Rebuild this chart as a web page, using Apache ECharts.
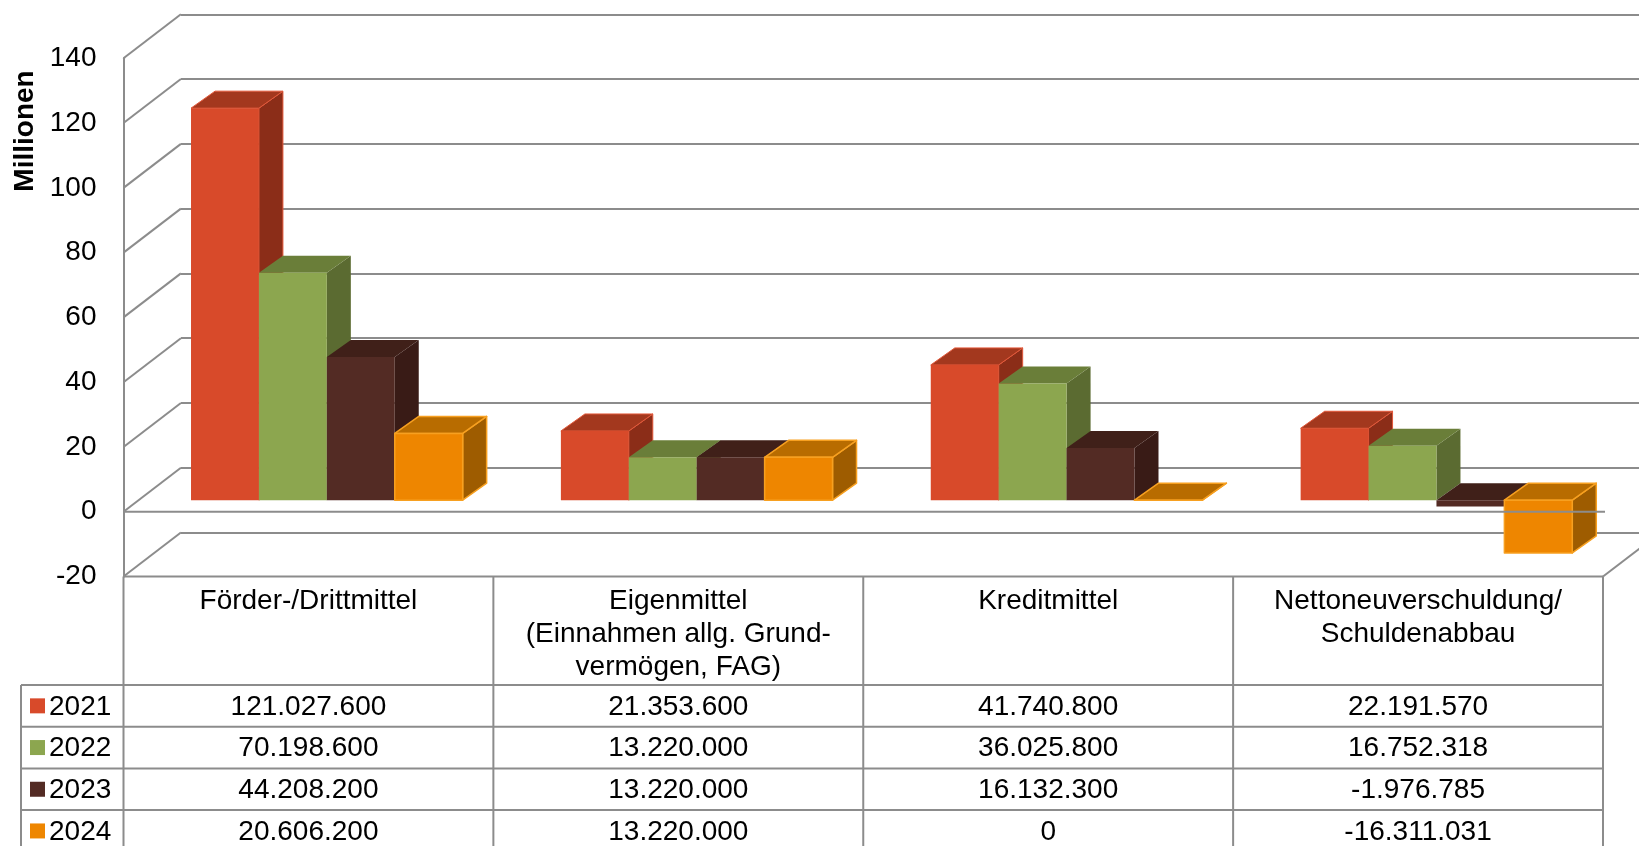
<!DOCTYPE html>
<html><head><meta charset="utf-8">
<script src="https://cdn.jsdelivr.net/npm/echarts@6/dist/echarts.min.js"></script>
<style>html,body{margin:0;padding:0;background:#fff}#c{width:1639px;height:846px}</style>
</head><body><div id="c"></div>
<script>
// ---------- data ----------
const categories = ['Förder-/Drittmittel', 'Eigenmittel\n(Einnahmen allg. Grund-\nvermögen, FAG)', 'Kreditmittel', 'Nettoneuverschuldung/\nSchuldenabbau'];
const years = ['2021', '2022', '2023', '2024'];
const values2021 = [121027600, 21353600, 41740800, 22191570];
const values2022 = [70198600, 13220000, 36025800, 16752318];
const values2023 = [44208200, 13220000, 16132300, -1976785];
const values2024 = [20606200, 13220000, 0, -16311031];
const yTicks = [-20, 0, 20, 40, 60, 80, 100, 120, 140];
const axisName = 'Millionen';

// ---------- styles / layout ----------
const seriesValues = [values2021, values2022, values2023, values2024];
const FRONT = ['#D84A2A', '#8CA64F', '#532B24', '#EE8600'];
const TOPC  = ['#A3381E', '#6A7E39', '#402019', '#B86C00'];
const SIDE  = ['#8B2D18', '#5B6B31', '#391B16', '#9E5C00'];
const EDGE  = ['#E2583A', null, null, '#F7A020'];
const GRID_COLOR = '#8c8c8c';
const FONT = '"Liberation Sans", Arial, sans-serif';
const FS = 28;
const L = 123.5, T = 58.3, W = 1479.5, H = 518.2;
const DDX = 57.4, DDY = -44;          // wall depth
const BSX = 18.4, BSY = -11.6;        // bar plane shift
const BDX = 24, BDY = -17;            // bar depth
const BAR_FRAC = 0.1836;
const HEADER_H = 108.5, ROW_H = 41.7, LEG_L = 21;
const yMin = yTicks[0], yMax = yTicks[yTicks.length - 1], yStep = yTicks[1] - yTicks[0];

const fmt = n => (n < 0 ? '-' : '') + Math.abs(n).toString().replace(/\B(?=(\d{3})+(?!\d))/g, '.');
const ln = (x1, y1, x2, y2) => ({type: 'line', shape: {x1, y1, x2, y2}, style: {stroke: GRID_COLOR, lineWidth: 2}});
const txt = (text, x, y, align, extra) => ({type: 'text', style: Object.assign({text, x, y, align, verticalAlign: 'middle', fill: '#000', font: FS + 'px ' + FONT}, extra || {})});

function makeBar(s) {
  return function (params, api) {
    const cat = api.value(0), v = api.value(1);
    const band = api.size([1, 0])[0];
    const bw = band * BAR_FRAC;
    const c0 = api.coord([cat, 0]);
    const yv = api.coord([cat, v])[1];
    const x0 = c0[0] - 2 * bw + s * bw, x1 = x0 + bw;
    const top = Math.min(c0[1], yv), bot = Math.max(c0[1], yv);
    const st = EDGE[s] ? {stroke: EDGE[s], lineWidth: s === 3 ? 1.5 : 1, lineJoin: 'round'} : {};
    return {type: 'group', children: [
      {type: 'polygon', shape: {points: [[x1, top], [x1 + BDX, top + BDY], [x1 + BDX, bot + BDY], [x1, bot]]}, style: Object.assign({fill: SIDE[s]}, st)},
      {type: 'polygon', shape: {points: [[x0, top], [x0 + BDX, top + BDY], [x1 + BDX, top + BDY], [x1, top]]}, style: Object.assign({fill: TOPC[s]}, st)},
      {type: 'rect', shape: {x: x0, y: top, width: bw, height: bot - top}, style: Object.assign({fill: FRONT[s]}, s === 3 ? st : {})}
    ]};
  };
}

const barSeries = seriesValues.map((arr, s) => ({
  type: 'custom', name: years[s], xAxisIndex: 2, yAxisIndex: 2, z: 3 + s, clip: false, silent: true,
  data: arr.map((v, i) => [i, v / 1e6]), renderItem: makeBar(s)
}));

const diagSeries = {
  type: 'custom', xAxisIndex: 0, yAxisIndex: 0, z: 1, clip: false, silent: true,
  data: yTicks.map(v => [0, v]),
  renderItem(params, api) {
    const cs = params.coordSys;
    const v = api.value(1);
    const y = api.coord([0, v])[1];
    const ch = [ln(cs.x, y, cs.x + DDX, y + DDY)];
    if (v === yMin) ch.push(ln(cs.x + cs.width, y, cs.x + cs.width + DDX, y + DDY));
    return {type: 'group', children: ch};
  }
};

const floorSeries = {
  type: 'custom', xAxisIndex: 0, yAxisIndex: 0, z: 20, clip: false, silent: true,
  data: [[0, 0]],
  renderItem(params, api) {
    const cs = params.coordSys;
    const y = api.coord([0, api.value(1)])[1];
    return ln(cs.x, y, cs.x + cs.width + 2, y);
  }
};

const tableSeries = {
  type: 'custom', xAxisIndex: 0, yAxisIndex: 0, z: 20, clip: false, silent: true,
  data: [[0, yMin]],
  renderItem(params, api) {
    const cs = params.coordSys;
    const band = api.size([1, 0])[0];
    const yTop = api.coord([0, yMin])[1];
    const left = cs.x, right = cs.x + cs.width;
    const hb = yTop + HEADER_H;
    const bottom = hb + 4 * ROW_H;
    const ch = [];
    ch.push(ln(left, yTop, right, yTop));
    for (let r = 0; r <= 4; r++) ch.push(ln(LEG_L, hb + r * ROW_H, right, hb + r * ROW_H));
    for (let i = 0; i <= categories.length; i++) ch.push(ln(left + i * band, yTop, left + i * band, bottom));
    ch.push(ln(LEG_L, hb, LEG_L, bottom));
    categories.forEach((c, i) => {
      const cx = api.coord([i, yMin])[0];
      c.split('\n').forEach((t, k) => ch.push(txt(t, cx, yTop + 25.2 + k * 32.7, 'center')));
      seriesValues.forEach((arr, s) => ch.push(txt(fmt(arr[i]), cx, hb + (s + 0.5) * ROW_H + 1, 'center')));
    });
    years.forEach((yr, s) => {
      const cy = hb + (s + 0.5) * ROW_H;
      ch.push({type: 'rect', shape: {x: 30, y: cy - 7.5, width: 15, height: 15}, style: {fill: FRONT[s]}});
      ch.push(txt(yr, 49, cy + 1, 'left'));
    });
    return {type: 'group', children: ch};
  }
};

const chart = echarts.init(document.getElementById('c'), null, {renderer: 'canvas'});
const hiddenX = i => ({type: 'category', gridIndex: i, data: categories, show: false});
chart.setOption({
  animation: false,
  backgroundColor: '#fff',
  grid: [
    {left: L, top: T, width: W, height: H},
    {left: L + DDX, top: T + DDY, width: W, height: H},
    {left: L + BSX, top: T + BSY, width: W, height: H}
  ],
  xAxis: [hiddenX(0), hiddenX(1), hiddenX(2)],
  yAxis: [
    {type: 'value', gridIndex: 0, min: yMin, max: yMax, interval: yStep,
     axisLine: {show: true, lineStyle: {color: GRID_COLOR, width: 2}},
     axisTick: {show: false}, splitLine: {show: false},
     axisLabel: {color: '#000', fontSize: FS, fontFamily: FONT, margin: 27}},
    {type: 'value', gridIndex: 1, min: yMin, max: yMax, interval: yStep,
     axisLine: {show: false}, axisTick: {show: false}, axisLabel: {show: false},
     splitLine: {show: true, lineStyle: {color: GRID_COLOR, width: 2}}},
    {type: 'value', gridIndex: 2, min: yMin, max: yMax, interval: yStep, show: false}
  ],
  graphic: [{type: 'text', x: 25, y: 131, rotation: Math.PI / 2,
    style: {text: axisName, align: 'center', verticalAlign: 'middle', fill: '#000', font: 'bold ' + FS + 'px ' + FONT}}],
  series: [diagSeries].concat(barSeries, [floorSeries, tableSeries])
});
</script></body></html>
